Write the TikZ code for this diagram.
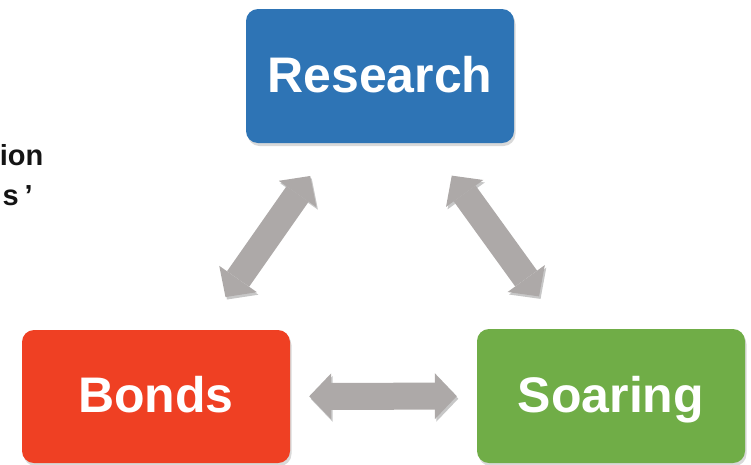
\documentclass[tikz,border=0pt]{standalone}
\usepackage{fontspec}
\setmainfont{Liberation Sans}
\usetikzlibrary{arrows.meta,shadows}

\definecolor{resblue}{RGB}{46,116,181}
\definecolor{bondred}{RGB}{239,64,35}
\definecolor{soargreen}{RGB}{112,173,71}
\definecolor{arrowgray}{RGB}{173,169,168}
\definecolor{labelink}{RGB}{20,20,20}

\tikzset{
  topic/.style={
    rounded corners=12pt, inner sep=0pt,
    minimum width=268pt, minimum height=134pt,
    text=white, font=\fontsize{50}{60}\selectfont\bfseries,
    text height=36pt, text depth=4pt,
    drop shadow={opacity=0.3, shadow xshift=1.5pt, shadow yshift=-3pt}
  },
  sidelabel/.style={
    inner sep=0pt, text=labelink,
    font=\fontsize{29}{35}\selectfont\bfseries
  },
  bigtip/.tip={Triangle[length=22pt,width=46pt,line width=0pt]},
  twoway/.style={
    line width=27pt, draw=arrowgray, bigtip-bigtip,
    preaction={draw=black, opacity=0.22,
      transform canvas={xshift=1.5pt,yshift=-2.5pt}}
  }
}

\begin{document}
\begin{tikzpicture}[x=1pt,y=-1pt]
  \useasboundingbox (0,0) rectangle (751,464);

  % the three topics
  \node[topic, fill=resblue]   (research) at (380,76)    {Research};
  \node[topic, fill=bondred,   minimum height=133pt] (bonds) at (156,396.5) {Bonds};
  \node[topic, fill=soargreen] (soaring)  at (611,396)   {Soaring};

  % the text running in from the left edge
  \node[sidelabel, anchor=base east] (lineA) at (43.5,165) {ion};
  \node[sidelabel, anchor=base east] (lineB) at (33,205) {s\kern6pt’};

  % two-way links between the topics
  \draw[twoway, shorten <=40pt, shorten >=40pt] (bonds) -- (research);
  \draw[twoway, shorten <=40pt, shorten >=40pt] (soaring) -- (research);
  \draw[twoway, shorten <=19pt, shorten >=20pt] (bonds) -- (soaring);
\end{tikzpicture}
\end{document}
